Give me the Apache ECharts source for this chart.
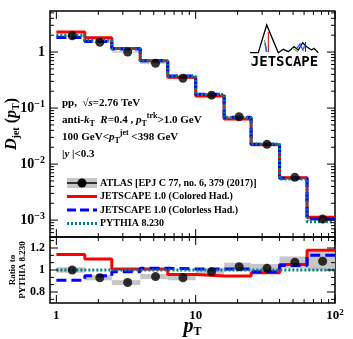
<!DOCTYPE html>
<html>
<head>
<meta charset="utf-8">
<script src="https://cdn.jsdelivr.net/npm/echarts@6/dist/echarts.min.js"></script>
<style>
html, body { margin: 0; padding: 0; background: #fff; }
#chart { width: 353px; height: 339px; }
</style>
</head>
<body>
<div id="chart"></div>
<script>
// pT bins (GeV) and ATLAS point positions
let binEdges = [1, 1.6, 2.5, 4, 6.3, 10, 16, 25, 40, 63, 100];
let binCenters = [1.3, 2.05, 3.25, 5.15, 8.1, 13, 20.5, 32.5, 51.5, 81.5];

// D(pT) values, upper panel
let atlasVal = [1.95, 1.49, 1.0, 0.63, 0.34, 0.17, 0.070, 0.0225, 0.0058, 0.00105];
let atlasSys = [0.025, 0.025, 0.025, 0.025, 0.025, 0.035, 0.035, 0.04, 0.05, 0.08]; // relative
let coloredVal = [2.28, 1.79, 1.16, 0.70, 0.355, 0.165, 0.064, 0.0222, 0.0057, 0.00112];
let colorlessVal = [1.81, 1.54, 1.13, 0.70, 0.374, 0.177, 0.0687, 0.0225, 0.0056, 0.00106];
let pythiaVal = [2.0, 1.63, 1.15, 0.69, 0.37, 0.175, 0.068, 0.0228, 0.0054, 0.00094];

// ratio to PYTHIA, lower panel
let atlasRatio = [1.0, 0.93, 0.886, 0.94, 0.93, 0.985, 1.03, 1.015, 1.07, 1.08];
let coloredRatio = [1.14, 1.10, 1.01, 1.01, 0.96, 0.945, 0.945, 0.975, 1.05, 1.18];
let colorlessRatio = [0.907, 0.947, 0.985, 1.015, 1.01, 1.01, 1.01, 0.985, 1.04, 1.135];
let pythiaRatio = [1, 1, 1, 1, 1, 1, 1, 1, 1, 1];

// tick values
let xMajor = [1, 10, 100];
let xMinor = [2, 3, 4, 5, 6, 7, 8, 9, 20, 30, 40, 50, 60, 70, 80, 90];
let yMajor = [0.001, 0.01, 0.1, 1];
let yMinor = [];
[0.0001, 0.001, 0.01, 0.1, 1].forEach(function (d) {
    for (let k = 2; k <= 9; k++) {
        let v = d * k;
        if (v > 0.0005 && v < 5.4) yMinor.push(v);
    }
});
let rMajor = [0.8, 1.0, 1.2];
let rMinor = [0.733, 0.867, 0.933, 1.067, 1.133, 1.267];

const serif = 'Liberation Serif';
const black = '#000';

function steps(vals) {
    let pts = [];
    for (let i = 0; i < vals.length; i++) {
        pts.push([binEdges[i], vals[i]]);
        pts.push([binEdges[i + 1], vals[i]]);
    }
    return pts;
}

function tickLine(x1, y1, x2, y2) {
    return {type: 'line', shape: {x1: x1, y1: y1, x2: x2, y2: y2}, style: {stroke: black, lineWidth: 1}};
}

function tickSeries(gi, axis, vals, ref, len) {
    return {
        type: 'custom', xAxisIndex: gi, yAxisIndex: gi, silent: true, clip: false, z: 10,
        data: vals.map(function (v) { return axis === 'x' ? [v, ref] : [ref, v]; }),
        encode: {x: 0, y: 1},
        renderItem: function (params, api) {
            let cs = params.coordSys;
            if (axis === 'x') {
                let px = api.coord([api.value(0), ref])[0];
                return {type: 'group', children: [
                    tickLine(px, cs.y + cs.height, px, cs.y + cs.height - len),
                    tickLine(px, cs.y, px, cs.y + len)
                ]};
            }
            let py = api.coord([ref, api.value(1)])[1];
            return {type: 'group', children: [
                tickLine(cs.x, py, cs.x + len, py),
                tickLine(cs.x + cs.width, py, cs.x + cs.width - len, py)
            ]};
        }
    };
}

function boxSeries(gi, vals, rel) {
    return {
        type: 'custom', xAxisIndex: gi, yAxisIndex: gi, silent: true, z: 1,
        data: vals.map(function (v, i) {
            return [binEdges[i], binEdges[i + 1], v * (1 - rel[i]), v * (1 + rel[i])];
        }),
        encode: {x: [0, 1], y: [2, 3]},
        renderItem: function (params, api) {
            let p1 = api.coord([api.value(0), api.value(3)]);
            let p2 = api.coord([api.value(1), api.value(2)]);
            return {type: 'rect', shape: {x: p1[0], y: p1[1], width: p2[0] - p1[0], height: p2[1] - p1[1]},
                style: {fill: '#c6c6c6'}};
        }
    };
}

function histSeries(gi, vals, color, type, z) {
    return {
        type: 'line', xAxisIndex: gi, yAxisIndex: gi, data: steps(vals), symbol: 'none',
        lineStyle: {color: color, width: 3, type: type}, z: z, silent: true
    };
}

function isPow10(v) {
    let e = Math.round(Math.log10(v));
    return Math.abs(v - Math.pow(10, e)) / Math.pow(10, e) < 1e-6 ? e : null;
}

function txt(size, extra) {
    let s = {fontFamily: serif, fontWeight: 'bold', fontSize: size, color: black, fill: black};
    for (let k in extra) s[k] = extra[k];
    return s;
}

const annRich = {
    b: txt(11, {lineHeight: 16}),
    i: txt(11, {lineHeight: 16, fontStyle: 'italic'}),
    sub: txt(8, {lineHeight: 9, verticalAlign: 'bottom'}),
    sup: txt(8, {lineHeight: 9, verticalAlign: 'top'})
};
const legRich = {
    b: txt(10, {lineHeight: 14})
};

function annText(x, y, text) {
    return {type: 'text', x: x, y: y, silent: true,
        style: {text: text, rich: annRich, verticalAlign: 'middle', align: 'left'}};
}
function legText(y, text) {
    return {type: 'text', x: 100, y: y, silent: true,
        style: {text: '{b|' + text + '}', rich: legRich, verticalAlign: 'middle', align: 'left'}};
}
function legLine(y, color, dash) {
    return {type: 'line', shape: {x1: 67, y1: y, x2: 97, y2: y}, silent: true,
        style: {stroke: color, lineWidth: 3, lineDash: dash}};
}

let myChart = echarts.init(document.getElementById('chart'));

let logo = [[250, 52.7], [258.3, 52.7], [266.7, 25], [278.3, 52.7], [283.3, 49.3], [288.3, 51.7],
    [294, 46.7], [298.3, 50], [302.7, 42.7], [306.7, 46.7], [311.7, 50], [314, 48.3], [318.3, 52.7]];

myChart.setOption({
    animation: false,
    grid: [
        {left: 50, top: 11, width: 285, height: 226, show: true, borderColor: black, borderWidth: 1.5,
            backgroundColor: 'transparent', outerBoundsMode: 'none'},
        {left: 50, top: 237, width: 285, height: 66, show: true, borderColor: black, borderWidth: 1.5,
            backgroundColor: 'transparent', outerBoundsMode: 'none'}
    ],
    xAxis: [
        {type: 'log', logBase: 10, gridIndex: 0, min: 0.9, max: 100,
            axisLine: {show: false}, axisTick: {show: false}, axisLabel: {show: false}, splitLine: {show: false}},
        {type: 'log', logBase: 10, gridIndex: 1, min: 0.9, max: 100,
            axisLine: {show: false}, axisTick: {show: false}, splitLine: {show: false},
            axisLabel: {
                margin: 5, showMinLabel: true, showMaxLabel: true,
                formatter: function (v) {
                    let e = isPow10(v);
                    if (e === null) return '';
                    if (e === 0) return '{n|1}';
                    if (e === 1) return '{n|10}';
                    return '{n|10}{e|' + e + '}';
                },
                rich: {n: txt(13, {lineHeight: 15}), e: txt(9, {lineHeight: 9, verticalAlign: 'top'})}
            },
            name: '{i|p}{s|T}', nameLocation: 'middle', nameGap: 13, nameMoveOverlap: false,
            nameTextStyle: {rich: {
                i: txt(20, {fontStyle: 'italic', lineHeight: 22}),
                s: txt(12, {lineHeight: 12, verticalAlign: 'bottom'})
            }}
        }
    ],
    yAxis: [
        {type: 'log', logBase: 10, gridIndex: 0, min: 0.0005, max: 5.4,
            axisLine: {show: false}, axisTick: {show: false}, splitLine: {show: false},
            axisLabel: {
                margin: 5, showMinLabel: true, showMaxLabel: true,
                formatter: function (v) {
                    let e = isPow10(v);
                    if (e === null) return '';
                    if (e === 0) return '{n|1}';
                    return '{n|10}{e|\u2212' + (-e) + '}';
                },
                rich: {n: txt(14, {lineHeight: 18}), e: txt(10, {lineHeight: 11, verticalAlign: 'top'})}
            },
            name: '{i|D}{s|jet} ({i|p}{s|T})', nameLocation: 'middle', nameRotate: 90, nameGap: 29,
            nameMoveOverlap: false,
            nameTextStyle: {rich: {
                i: txt(16, {fontStyle: 'italic', lineHeight: 18}),
                s: txt(10, {lineHeight: 10, verticalAlign: 'bottom'})
            }, fontFamily: serif, fontWeight: 'bold', fontSize: 16, color: black}
        },
        {type: 'value', gridIndex: 1, min: 0.7, max: 1.3, interval: 0.1,
            axisLine: {show: false}, axisTick: {show: false}, splitLine: {show: false},
            axisLabel: {
                margin: 5, showMinLabel: false, showMaxLabel: false,
                formatter: function (v) {
                    let k = Math.round(v * 10);
                    if (k === 8) return '0.8';
                    if (k === 10) return '1';
                    if (k === 12) return '1.2';
                    return '';
                },
                fontFamily: serif, fontWeight: 'bold', fontSize: 12, color: black
            },
            name: 'Ratio to\nPYTHIA 8.230', nameLocation: 'middle', nameRotate: 90, nameGap: 22,
            nameMoveOverlap: false,
            nameTextStyle: {fontFamily: serif, fontWeight: 'bold', fontSize: 9, lineHeight: 10, color: black}
        }
    ],
    series: [
        boxSeries(0, atlasVal, atlasSys),
        histSeries(0, coloredVal, '#ff0000', 'solid', 3),
        histSeries(0, colorlessVal, '#0000ff', [10, 5], 4),
        histSeries(0, pythiaVal, '#008080', [2, 2], 5),
        {type: 'scatter', xAxisIndex: 0, yAxisIndex: 0, symbolSize: 9, z: 6, silent: true,
            itemStyle: {color: black},
            data: binCenters.map(function (x, i) { return [x, atlasVal[i]]; })},

        boxSeries(1, atlasRatio, atlasSys),
        histSeries(1, coloredRatio, '#ff0000', 'solid', 3),
        histSeries(1, colorlessRatio, '#0000ff', [10, 5], 4),
        histSeries(1, pythiaRatio, '#008080', [2, 2], 5),
        {type: 'scatter', xAxisIndex: 1, yAxisIndex: 1, symbolSize: 9, z: 6, silent: true,
            itemStyle: {color: black},
            data: binCenters.map(function (x, i) { return [x, atlasRatio[i]]; })},

        tickSeries(0, 'x', xMajor, 1, 8),
        tickSeries(0, 'x', xMinor, 1, 4),
        tickSeries(0, 'y', yMajor, 10, 8),
        tickSeries(0, 'y', yMinor, 10, 4),
        tickSeries(1, 'x', xMajor, 1, 8),
        tickSeries(1, 'x', xMinor, 1, 4),
        tickSeries(1, 'y', rMajor, 10, 8),
        tickSeries(1, 'y', rMinor, 10, 4)
    ],
    graphic: [
        annText(62, 103, '{b|pp,  \u221A}{i|s}{b|=2.76 TeV}'),
        annText(62, 120, '{b|anti-}{i|k}{sub|T}{b|  }{i|R}{b|=0.4 , }{i|p}{sub|T}{sup|trk}{b|>1.0 GeV}'),
        annText(62, 137, '{b|100 GeV<}{i|p}{sub|T}{sup|jet}{b| <398 GeV}'),
        annText(62, 154, '{b||}{i|y}{b| |<0.3}'),

        {type: 'rect', shape: {x: 67, y: 178, width: 30, height: 10}, silent: true, style: {fill: '#c6c6c6'}},
        {type: 'line', shape: {x1: 67, y1: 183, x2: 97, y2: 183}, silent: true, style: {stroke: black, lineWidth: 1.5}},
        {type: 'circle', shape: {cx: 82, cy: 183, r: 4.5}, silent: true, style: {fill: black}},
        legLine(196.5, '#ff0000', null),
        legLine(210, '#0000ff', [9, 4]),
        legLine(223.5, '#008080', [2, 2]),
        legText(183, 'ATLAS [EPJ C 77, no. 6, 379 (2017)]'),
        legText(196.5, 'JETSCAPE 1.0 (Colored Had.)'),
        legText(210, 'JETSCAPE 1.0 (Colorless Had.)'),
        legText(223.5, 'PYTHIA 8.230'),

        {type: 'polyline', shape: {points: logo}, silent: true, style: {stroke: black, lineWidth: 1.3, fill: null}},
        {type: 'line', shape: {x1: 268.3, y1: 32, x2: 268.3, y2: 52}, silent: true, style: {stroke: '#cc0000', lineWidth: 1}},
        {type: 'line', shape: {x1: 264.5, y1: 40, x2: 267, y2: 52}, silent: true, style: {stroke: '#22aa22', lineWidth: 1}},
        {type: 'line', shape: {x1: 265, y1: 43, x2: 266.5, y2: 52}, silent: true, style: {stroke: '#3355ff', lineWidth: 1.5}},
        {type: 'polyline', shape: {points: [[297, 48], [300, 44], [303, 50], [305, 45]]}, silent: true,
            style: {stroke: '#3366ff', lineWidth: 1.5, fill: null}},
        {type: 'line', shape: {x1: 305.5, y1: 42, x2: 305.5, y2: 52}, silent: true, style: {stroke: '#cc0000', lineWidth: 1}},
        {type: 'line', shape: {x1: 292, y1: 48, x2: 298, y2: 52}, silent: true, style: {stroke: '#22aa22', lineWidth: 1}},
        {type: 'text', x: 284.5, y: 62, silent: true,
            style: {text: 'JETSCAPE', font: 'bold 14px "DejaVu Sans Mono"', fill: black, align: 'center', verticalAlign: 'middle'}}
    ]
});
</script>
</body>
</html>
